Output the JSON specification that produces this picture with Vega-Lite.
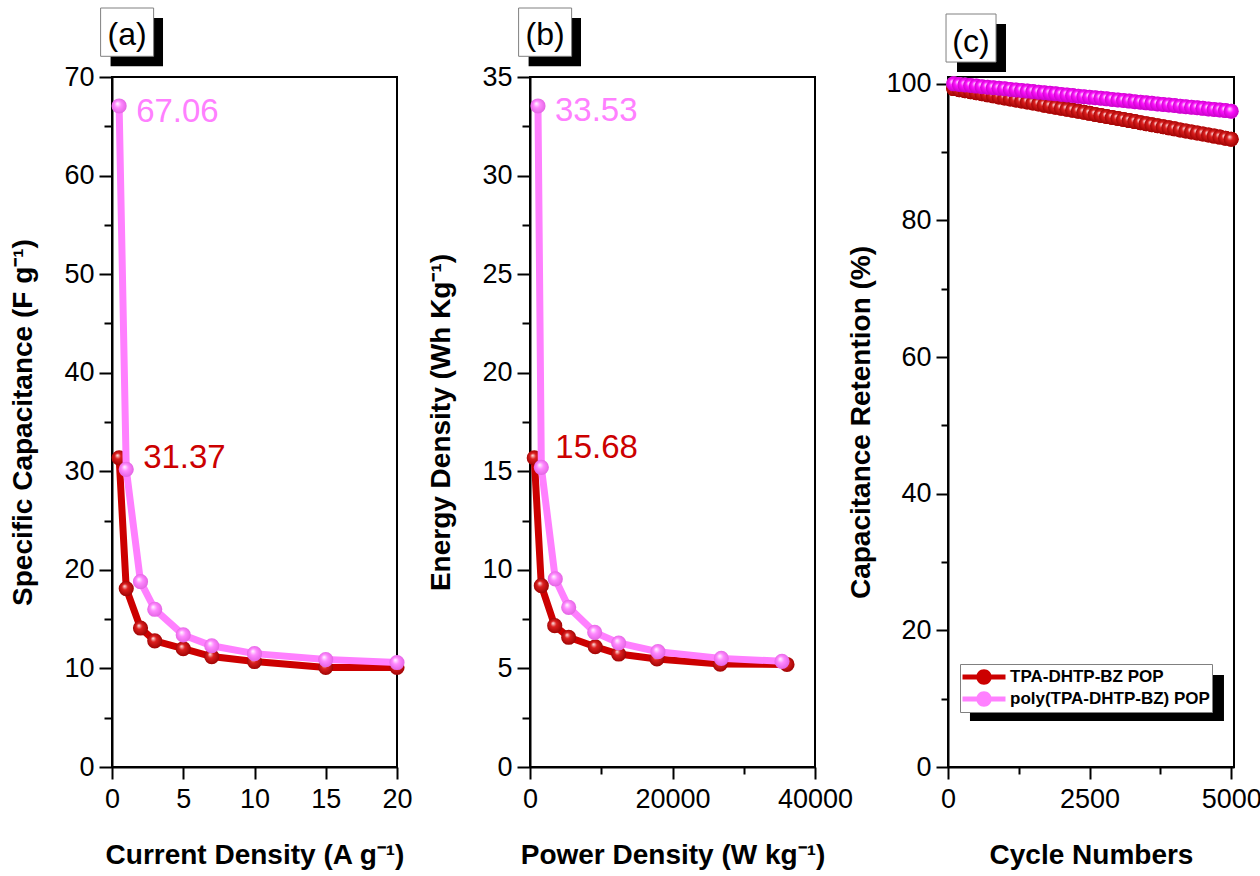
{
  "$schema": "https://vega.github.io/schema/vega-lite/v6.json",
  "autosize": {"type": "pad"},
  "padding": {"left": 8, "top": 6, "right": 0, "bottom": 0},
  "background": "white",
  "bounds": "flush",
  "spacing": 133,
  "resolve": {"legend": {"color": "independent"}},
  "config": {
    "font": "Liberation Sans",
    "view": {"stroke": "black", "strokeWidth": 2},
    "axis": {
      "grid": false,
      "domainColor": "black",
      "domainWidth": 2,
      "tickColor": "black",
      "tickWidth": 2,
      "labelColor": "black",
      "labelFont": "Liberation Sans",
      "labelFontSize": 27,
      "labelPadding": 5,
      "labelFlush": false,
      "labelOverlap": false,
      "labelBound": false,
      "titleFont": "Liberation Sans",
      "titleFontSize": 28,
      "titleFontWeight": "bold",
      "titleColor": "black"
    },
    "axisX": {"titlePadding": 29, "labelPadding": 7},
    "axisY": {"titlePadding": 26}
  },
  "datasets": {
    "a": [
      {"x": 0.5, "y": 31.37, "s": "r"}, {"x": 1, "y": 18.1, "s": "r"}, {"x": 2, "y": 14.1, "s": "r"}, {"x": 3, "y": 12.8, "s": "r"}, {"x": 5, "y": 12.0, "s": "r"}, {"x": 7, "y": 11.2, "s": "r"}, {"x": 10, "y": 10.7, "s": "r"}, {"x": 15, "y": 10.1, "s": "r"}, {"x": 20, "y": 10.1, "s": "r"},
      {"x": 0.5, "y": 67.06, "s": "p"}, {"x": 1, "y": 30.2, "s": "p"}, {"x": 2, "y": 18.8, "s": "p"}, {"x": 3, "y": 16.0, "s": "p"}, {"x": 5, "y": 13.4, "s": "p"}, {"x": 7, "y": 12.3, "s": "p"}, {"x": 10, "y": 11.5, "s": "p"}, {"x": 15, "y": 10.9, "s": "p"}, {"x": 20, "y": 10.6, "s": "p"}
    ],
    "b": [
      {"x": 600, "y": 15.68, "s": "r"}, {"x": 1590, "y": 9.2, "s": "r"}, {"x": 3470, "y": 7.17, "s": "r"}, {"x": 5430, "y": 6.58, "s": "r"}, {"x": 9160, "y": 6.1, "s": "r"}, {"x": 12450, "y": 5.73, "s": "r"}, {"x": 17820, "y": 5.48, "s": "r"}, {"x": 26700, "y": 5.22, "s": "r"}, {"x": 36070, "y": 5.2, "s": "r"},
      {"x": 1120, "y": 33.53, "s": "p"}, {"x": 1590, "y": 15.2, "s": "p"}, {"x": 3550, "y": 9.54, "s": "p"}, {"x": 5430, "y": 8.1, "s": "p"}, {"x": 9080, "y": 6.83, "s": "p"}, {"x": 12450, "y": 6.29, "s": "p"}, {"x": 17960, "y": 5.85, "s": "p"}, {"x": 26850, "y": 5.51, "s": "p"}, {"x": 35370, "y": 5.36, "s": "p"}
    ],
    "c": [
      {"c": 100, "y": 99.30, "s": "TPA-DHTP-BZ POP"}, {"c": 200, "y": 99.15, "s": "TPA-DHTP-BZ POP"}, {"c": 300, "y": 99.00, "s": "TPA-DHTP-BZ POP"}, {"c": 400, "y": 98.85, "s": "TPA-DHTP-BZ POP"}, {"c": 500, "y": 98.70, "s": "TPA-DHTP-BZ POP"},
      {"c": 600, "y": 98.55, "s": "TPA-DHTP-BZ POP"}, {"c": 700, "y": 98.39, "s": "TPA-DHTP-BZ POP"}, {"c": 800, "y": 98.24, "s": "TPA-DHTP-BZ POP"}, {"c": 900, "y": 98.09, "s": "TPA-DHTP-BZ POP"}, {"c": 1000, "y": 97.94, "s": "TPA-DHTP-BZ POP"},
      {"c": 1100, "y": 97.79, "s": "TPA-DHTP-BZ POP"}, {"c": 1200, "y": 97.64, "s": "TPA-DHTP-BZ POP"}, {"c": 1300, "y": 97.49, "s": "TPA-DHTP-BZ POP"}, {"c": 1400, "y": 97.34, "s": "TPA-DHTP-BZ POP"}, {"c": 1500, "y": 97.19, "s": "TPA-DHTP-BZ POP"},
      {"c": 1600, "y": 97.04, "s": "TPA-DHTP-BZ POP"}, {"c": 1700, "y": 96.88, "s": "TPA-DHTP-BZ POP"}, {"c": 1800, "y": 96.73, "s": "TPA-DHTP-BZ POP"}, {"c": 1900, "y": 96.58, "s": "TPA-DHTP-BZ POP"}, {"c": 2000, "y": 96.43, "s": "TPA-DHTP-BZ POP"},
      {"c": 2100, "y": 96.28, "s": "TPA-DHTP-BZ POP"}, {"c": 2200, "y": 96.13, "s": "TPA-DHTP-BZ POP"}, {"c": 2300, "y": 95.98, "s": "TPA-DHTP-BZ POP"}, {"c": 2400, "y": 95.83, "s": "TPA-DHTP-BZ POP"}, {"c": 2500, "y": 95.68, "s": "TPA-DHTP-BZ POP"},
      {"c": 2600, "y": 95.52, "s": "TPA-DHTP-BZ POP"}, {"c": 2700, "y": 95.37, "s": "TPA-DHTP-BZ POP"}, {"c": 2800, "y": 95.22, "s": "TPA-DHTP-BZ POP"}, {"c": 2900, "y": 95.07, "s": "TPA-DHTP-BZ POP"}, {"c": 3000, "y": 94.92, "s": "TPA-DHTP-BZ POP"},
      {"c": 3100, "y": 94.77, "s": "TPA-DHTP-BZ POP"}, {"c": 3200, "y": 94.62, "s": "TPA-DHTP-BZ POP"}, {"c": 3300, "y": 94.47, "s": "TPA-DHTP-BZ POP"}, {"c": 3400, "y": 94.32, "s": "TPA-DHTP-BZ POP"}, {"c": 3500, "y": 94.17, "s": "TPA-DHTP-BZ POP"},
      {"c": 3600, "y": 94.01, "s": "TPA-DHTP-BZ POP"}, {"c": 3700, "y": 93.86, "s": "TPA-DHTP-BZ POP"}, {"c": 3800, "y": 93.71, "s": "TPA-DHTP-BZ POP"}, {"c": 3900, "y": 93.56, "s": "TPA-DHTP-BZ POP"}, {"c": 4000, "y": 93.41, "s": "TPA-DHTP-BZ POP"},
      {"c": 4100, "y": 93.26, "s": "TPA-DHTP-BZ POP"}, {"c": 4200, "y": 93.11, "s": "TPA-DHTP-BZ POP"}, {"c": 4300, "y": 92.96, "s": "TPA-DHTP-BZ POP"}, {"c": 4400, "y": 92.81, "s": "TPA-DHTP-BZ POP"}, {"c": 4500, "y": 92.66, "s": "TPA-DHTP-BZ POP"},
      {"c": 4600, "y": 92.50, "s": "TPA-DHTP-BZ POP"}, {"c": 4700, "y": 92.35, "s": "TPA-DHTP-BZ POP"}, {"c": 4800, "y": 92.20, "s": "TPA-DHTP-BZ POP"}, {"c": 4900, "y": 92.05, "s": "TPA-DHTP-BZ POP"}, {"c": 5000, "y": 91.90, "s": "TPA-DHTP-BZ POP"},
      {"c": 100, "y": 100.00, "s": "poly(TPA-DHTP-BZ) POP"}, {"c": 200, "y": 99.92, "s": "poly(TPA-DHTP-BZ) POP"}, {"c": 300, "y": 99.84, "s": "poly(TPA-DHTP-BZ) POP"}, {"c": 400, "y": 99.76, "s": "poly(TPA-DHTP-BZ) POP"}, {"c": 500, "y": 99.67, "s": "poly(TPA-DHTP-BZ) POP"},
      {"c": 600, "y": 99.59, "s": "poly(TPA-DHTP-BZ) POP"}, {"c": 700, "y": 99.51, "s": "poly(TPA-DHTP-BZ) POP"}, {"c": 800, "y": 99.43, "s": "poly(TPA-DHTP-BZ) POP"}, {"c": 900, "y": 99.35, "s": "poly(TPA-DHTP-BZ) POP"}, {"c": 1000, "y": 99.27, "s": "poly(TPA-DHTP-BZ) POP"},
      {"c": 1100, "y": 99.18, "s": "poly(TPA-DHTP-BZ) POP"}, {"c": 1200, "y": 99.10, "s": "poly(TPA-DHTP-BZ) POP"}, {"c": 1300, "y": 99.02, "s": "poly(TPA-DHTP-BZ) POP"}, {"c": 1400, "y": 98.94, "s": "poly(TPA-DHTP-BZ) POP"}, {"c": 1500, "y": 98.86, "s": "poly(TPA-DHTP-BZ) POP"},
      {"c": 1600, "y": 98.78, "s": "poly(TPA-DHTP-BZ) POP"}, {"c": 1700, "y": 98.69, "s": "poly(TPA-DHTP-BZ) POP"}, {"c": 1800, "y": 98.61, "s": "poly(TPA-DHTP-BZ) POP"}, {"c": 1900, "y": 98.53, "s": "poly(TPA-DHTP-BZ) POP"}, {"c": 2000, "y": 98.45, "s": "poly(TPA-DHTP-BZ) POP"},
      {"c": 2100, "y": 98.37, "s": "poly(TPA-DHTP-BZ) POP"}, {"c": 2200, "y": 98.29, "s": "poly(TPA-DHTP-BZ) POP"}, {"c": 2300, "y": 98.20, "s": "poly(TPA-DHTP-BZ) POP"}, {"c": 2400, "y": 98.12, "s": "poly(TPA-DHTP-BZ) POP"}, {"c": 2500, "y": 98.04, "s": "poly(TPA-DHTP-BZ) POP"},
      {"c": 2600, "y": 97.96, "s": "poly(TPA-DHTP-BZ) POP"}, {"c": 2700, "y": 97.88, "s": "poly(TPA-DHTP-BZ) POP"}, {"c": 2800, "y": 97.80, "s": "poly(TPA-DHTP-BZ) POP"}, {"c": 2900, "y": 97.71, "s": "poly(TPA-DHTP-BZ) POP"}, {"c": 3000, "y": 97.63, "s": "poly(TPA-DHTP-BZ) POP"},
      {"c": 3100, "y": 97.55, "s": "poly(TPA-DHTP-BZ) POP"}, {"c": 3200, "y": 97.47, "s": "poly(TPA-DHTP-BZ) POP"}, {"c": 3300, "y": 97.39, "s": "poly(TPA-DHTP-BZ) POP"}, {"c": 3400, "y": 97.31, "s": "poly(TPA-DHTP-BZ) POP"}, {"c": 3500, "y": 97.22, "s": "poly(TPA-DHTP-BZ) POP"},
      {"c": 3600, "y": 97.14, "s": "poly(TPA-DHTP-BZ) POP"}, {"c": 3700, "y": 97.06, "s": "poly(TPA-DHTP-BZ) POP"}, {"c": 3800, "y": 96.98, "s": "poly(TPA-DHTP-BZ) POP"}, {"c": 3900, "y": 96.90, "s": "poly(TPA-DHTP-BZ) POP"}, {"c": 4000, "y": 96.82, "s": "poly(TPA-DHTP-BZ) POP"},
      {"c": 4100, "y": 96.73, "s": "poly(TPA-DHTP-BZ) POP"}, {"c": 4200, "y": 96.65, "s": "poly(TPA-DHTP-BZ) POP"}, {"c": 4300, "y": 96.57, "s": "poly(TPA-DHTP-BZ) POP"}, {"c": 4400, "y": 96.49, "s": "poly(TPA-DHTP-BZ) POP"}, {"c": 4500, "y": 96.41, "s": "poly(TPA-DHTP-BZ) POP"},
      {"c": 4600, "y": 96.33, "s": "poly(TPA-DHTP-BZ) POP"}, {"c": 4700, "y": 96.24, "s": "poly(TPA-DHTP-BZ) POP"}, {"c": 4800, "y": 96.16, "s": "poly(TPA-DHTP-BZ) POP"}, {"c": 4900, "y": 96.08, "s": "poly(TPA-DHTP-BZ) POP"}, {"c": 5000, "y": 96.00, "s": "poly(TPA-DHTP-BZ) POP"}
    ]
  },
  "hconcat": [
    {
      "width": 285,
      "height": 690,
      "data": {"name": "a"},
      "layer": [
        {"transform": [{"aggregate": [{"op": "count", "as": "n"}]}], "mark": {"type": "rect", "fill": "black", "clip": false},
         "encoding": {"x": {"datum": -0.1, "type": "quantitative", "scale": {"domain": [0, 20], "nice": false}}, "x2": {"datum": 3.58},
                      "y": {"datum": 75.99, "type": "quantitative", "scale": {"domain": [0, 70], "nice": false}}, "y2": {"datum": 71.09}}},
        {"transform": [{"aggregate": [{"op": "count", "as": "n"}]}], "mark": {"type": "rect", "fill": "white", "stroke": "#808080", "strokeWidth": 1, "clip": false},
         "encoding": {"x": {"datum": -0.8, "type": "quantitative", "scale": {"domain": [0, 20], "nice": false}}, "x2": {"datum": 2.92},
                      "y": {"datum": 77.0, "type": "quantitative", "scale": {"domain": [0, 70], "nice": false}}, "y2": {"datum": 72.1}}},
        {"transform": [{"aggregate": [{"op": "count", "as": "n"}]}], "mark": {"type": "text", "fontSize": 32, "color": "black", "align": "center", "baseline": "alphabetic", "clip": false},
         "encoding": {"x": {"datum": 1.06, "type": "quantitative", "scale": {"domain": [0, 20], "nice": false}},
                      "y": {"datum": 73.22, "type": "quantitative", "scale": {"domain": [0, 70], "nice": false}},
                      "text": {"value": "(a)"}}},
        {
          "encoding": {
            "x": {"field": "x", "type": "quantitative", "scale": {"domain": [0, 20], "nice": false},
                  "axis": {"title": "Current Density (A g⁻¹)", "values": [0, 2.5, 5, 7.5, 10, 12.5, 15, 17.5, 20], "format": "~g",
                           "labelExpr": "datum.value % 5 == 0 ? datum.label : ''",
                           "tickSize": {"condition": {"test": "datum.value % 5 == 0", "value": 12}, "value": 7}}},
            "y": {"field": "y", "type": "quantitative", "scale": {"domain": [0, 70], "nice": false},
                  "axis": {"title": "Specific Capacitance (F g⁻¹)", "values": [0, 5, 10, 15, 20, 25, 30, 35, 40, 45, 50, 55, 60, 65, 70], "format": "~g",
                           "labelExpr": "datum.value % 10 == 0 ? datum.label : ''",
                           "tickSize": {"condition": {"test": "datum.value % 10 == 0", "value": 13}, "value": 8}}}
          },
          "layer": [
            {"transform": [{"filter": "datum.s == 'r'"}], "mark": {"type": "line", "color": "#cc0000", "strokeWidth": 7}},
            {"transform": [{"filter": "datum.s == 'r'"}], "mark": {"type": "point", "filled": true, "size": 230, "opacity": 1, "strokeWidth": 0,
              "fill": {"gradient": "radial", "x1": 0.38, "y1": 0.33, "r1": 0, "x2": 0.5, "y2": 0.5, "r2": 0.55,
                       "stops": [{"offset": 0, "color": "#fff0f0"}, {"offset": 0.35, "color": "#dd2020"}, {"offset": 1, "color": "#990000"}]}}},
            {"transform": [{"filter": "datum.s == 'p'"}], "mark": {"type": "line", "color": "#ff80ff", "strokeWidth": 7}},
            {"transform": [{"filter": "datum.s == 'p'"}], "mark": {"type": "point", "filled": true, "size": 230, "opacity": 1, "strokeWidth": 0,
              "fill": {"gradient": "radial", "x1": 0.38, "y1": 0.33, "r1": 0, "x2": 0.5, "y2": 0.5, "r2": 0.55,
                       "stops": [{"offset": 0, "color": "#ffffff"}, {"offset": 0.4, "color": "#ff88ff"}, {"offset": 1, "color": "#e060e0"}]}}},
            {"transform": [{"filter": "datum.s == 'r' && datum.x == 0.5"}], "mark": {"type": "text", "align": "left", "baseline": "middle", "fontSize": 33, "color": "#cc0000", "dx": 24, "dy": 0},
             "encoding": {"text": {"field": "y", "type": "quantitative", "format": ".2f"}}},
            {"transform": [{"filter": "datum.s == 'p' && datum.x == 0.5"}], "mark": {"type": "text", "align": "left", "baseline": "middle", "fontSize": 33, "color": "#ff80ff", "dx": 17, "dy": 6},
             "encoding": {"text": {"field": "y", "type": "quantitative", "format": ".2f"}}}
          ]
        }
      ]
    },
    {
      "width": 285,
      "height": 690,
      "data": {"name": "b"},
      "layer": [
        {"transform": [{"aggregate": [{"op": "count", "as": "n"}]}], "mark": {"type": "rect", "fill": "black", "clip": false},
         "encoding": {"x": {"datum": -196, "type": "quantitative", "scale": {"domain": [0, 40000], "nice": false}}, "x2": {"datum": 7158},
                      "y": {"datum": 37.99, "type": "quantitative", "scale": {"domain": [0, 35], "nice": false}}, "y2": {"datum": 35.54}}},
        {"transform": [{"aggregate": [{"op": "count", "as": "n"}]}], "mark": {"type": "rect", "fill": "white", "stroke": "#808080", "strokeWidth": 1, "clip": false},
         "encoding": {"x": {"datum": -1600, "type": "quantitative", "scale": {"domain": [0, 40000], "nice": false}}, "x2": {"datum": 5840},
                      "y": {"datum": 38.5, "type": "quantitative", "scale": {"domain": [0, 35], "nice": false}}, "y2": {"datum": 36.05}}},
        {"transform": [{"aggregate": [{"op": "count", "as": "n"}]}], "mark": {"type": "text", "fontSize": 32, "color": "black", "align": "center", "baseline": "alphabetic", "clip": false},
         "encoding": {"x": {"datum": 2120, "type": "quantitative", "scale": {"domain": [0, 40000], "nice": false}},
                      "y": {"datum": 36.61, "type": "quantitative", "scale": {"domain": [0, 35], "nice": false}},
                      "text": {"value": "(b)"}}},
        {
          "encoding": {
            "x": {"field": "x", "type": "quantitative", "scale": {"domain": [0, 40000], "nice": false},
                  "axis": {"title": "Power Density (W kg⁻¹)", "values": [0, 10000, 20000, 30000, 40000], "format": "d",
                           "labelExpr": "datum.value % 20000 == 0 ? datum.label : ''",
                           "tickSize": {"condition": {"test": "datum.value % 20000 == 0", "value": 12}, "value": 7}}},
            "y": {"field": "y", "type": "quantitative", "scale": {"domain": [0, 35], "nice": false},
                  "axis": {"title": "Energy Density (Wh Kg⁻¹)", "values": [0, 2.5, 5, 7.5, 10, 12.5, 15, 17.5, 20, 22.5, 25, 27.5, 30, 32.5, 35], "format": "~g",
                           "labelExpr": "datum.value % 5 == 0 ? datum.label : ''",
                           "tickSize": {"condition": {"test": "datum.value % 5 == 0", "value": 13}, "value": 8}}}
          },
          "layer": [
            {"transform": [{"filter": "datum.s == 'r'"}], "mark": {"type": "line", "color": "#cc0000", "strokeWidth": 7}},
            {"transform": [{"filter": "datum.s == 'r'"}], "mark": {"type": "point", "filled": true, "size": 230, "opacity": 1, "strokeWidth": 0,
              "fill": {"gradient": "radial", "x1": 0.38, "y1": 0.33, "r1": 0, "x2": 0.5, "y2": 0.5, "r2": 0.55,
                       "stops": [{"offset": 0, "color": "#fff0f0"}, {"offset": 0.35, "color": "#dd2020"}, {"offset": 1, "color": "#990000"}]}}},
            {"transform": [{"filter": "datum.s == 'p'"}], "mark": {"type": "line", "color": "#ff80ff", "strokeWidth": 7}},
            {"transform": [{"filter": "datum.s == 'p'"}], "mark": {"type": "point", "filled": true, "size": 230, "opacity": 1, "strokeWidth": 0,
              "fill": {"gradient": "radial", "x1": 0.38, "y1": 0.33, "r1": 0, "x2": 0.5, "y2": 0.5, "r2": 0.55,
                       "stops": [{"offset": 0, "color": "#ffffff"}, {"offset": 0.4, "color": "#ff88ff"}, {"offset": 1, "color": "#e060e0"}]}}},
            {"transform": [{"filter": "datum.s == 'r' && datum.x < 1500"}], "mark": {"type": "text", "align": "left", "baseline": "middle", "fontSize": 33, "color": "#cc0000", "dx": 21, "dy": -10},
             "encoding": {"text": {"field": "y", "type": "quantitative", "format": ".2f"}}},
            {"transform": [{"filter": "datum.s == 'p' && datum.x < 1500"}], "mark": {"type": "text", "align": "left", "baseline": "middle", "fontSize": 33, "color": "#ff80ff", "dx": 17, "dy": 5},
             "encoding": {"text": {"field": "y", "type": "quantitative", "format": ".2f"}}}
          ]
        }
      ]
    },
    {
      "width": 286,
      "height": 690,
      "data": {"name": "c"},
      "layer": [
        {"transform": [{"aggregate": [{"op": "count", "as": "n"}]}], "mark": {"type": "rect", "fill": "black", "clip": false},
         "encoding": {"x": {"datum": 159, "type": "quantitative", "scale": {"domain": [0, 5050], "nice": false}}, "x2": {"datum": 1024},
                      "y": {"datum": 108.76, "type": "quantitative", "scale": {"domain": [0, 101], "nice": false}}, "y2": {"datum": 101.73}}},
        {"transform": [{"aggregate": [{"op": "count", "as": "n"}]}], "mark": {"type": "rect", "fill": "white", "stroke": "#808080", "strokeWidth": 1, "clip": false},
         "encoding": {"x": {"datum": -35, "type": "quantitative", "scale": {"domain": [0, 5050], "nice": false}}, "x2": {"datum": 848},
                      "y": {"datum": 110.22, "type": "quantitative", "scale": {"domain": [0, 101], "nice": false}}, "y2": {"datum": 103.19}}},
        {"transform": [{"aggregate": [{"op": "count", "as": "n"}]}], "mark": {"type": "text", "fontSize": 32, "color": "black", "align": "center", "baseline": "alphabetic", "clip": false},
         "encoding": {"x": {"datum": 406, "type": "quantitative", "scale": {"domain": [0, 5050], "nice": false}},
                      "y": {"datum": 104.6, "type": "quantitative", "scale": {"domain": [0, 101], "nice": false}},
                      "text": {"value": "(c)"}}},
        {"transform": [{"aggregate": [{"op": "count", "as": "n"}]}], "mark": {"type": "rect", "fill": "black", "clip": false},
         "encoding": {"x": {"datum": 388, "type": "quantitative", "scale": {"domain": [0, 5050], "nice": false}}, "x2": {"datum": 4873},
                      "y": {"datum": 13.47, "type": "quantitative", "scale": {"domain": [0, 101], "nice": false}}, "y2": {"datum": 6.73}}},
        {
          "encoding": {
            "x": {"field": "c", "type": "quantitative", "scale": {"domain": [0, 5050], "nice": false},
                  "axis": {"title": "Cycle Numbers", "values": [0, 1250, 2500, 3750, 5000], "format": "d",
                           "labelExpr": "datum.value % 2500 == 0 ? datum.label : ''",
                           "tickSize": {"condition": {"test": "datum.value % 2500 == 0", "value": 12}, "value": 7}}},
            "y": {"field": "y", "type": "quantitative", "scale": {"domain": [0, 101], "nice": false},
                  "axis": {"title": "Capacitance Retention (%)", "titlePadding": 10, "values": [0, 10, 20, 30, 40, 50, 60, 70, 80, 90, 100], "format": "d",
                           "labelExpr": "datum.value % 20 == 0 ? datum.label : ''",
                           "tickSize": {"condition": {"test": "datum.value % 20 == 0", "value": 12}, "value": 7}}}
          },
          "layer": [
            {"mark": {"type": "point", "filled": true, "size": 225, "opacity": 1, "strokeWidth": 0},
             "encoding": {"color": {"field": "s", "type": "nominal",
                                    "scale": {"domain": ["TPA-DHTP-BZ POP", "poly(TPA-DHTP-BZ) POP"], "range": ["#cc0000", "#ff80ff"]},
                                    "legend": {"orient": "none", "legendX": 12, "legendY": 587, "title": null,
                                               "symbolType": "M-1,-0.12H1V0.12H-1Z M-0.36,0A0.36,0.36 0 1,1 0.36,0A0.36,0.36 0 1,1 -0.36,0Z",
                                               "symbolSize": 1850, "symbolStrokeWidth": 0, "symbolOpacity": 1, "clipHeight": 22,
                                               "labelFont": "Liberation Sans", "labelFontSize": 17, "labelFontWeight": "bold", "labelColor": "black",
                                               "labelOffset": 4, "fillColor": "white", "strokeColor": "#808080", "padding": 2, "rowPadding": 0, "labelLimit": 400}}}},
            {"transform": [{"filter": "datum.s == 'TPA-DHTP-BZ POP'"}], "mark": {"type": "line", "color": "#cc0000", "strokeWidth": 6}},
            {"transform": [{"filter": "datum.s == 'TPA-DHTP-BZ POP'"}], "mark": {"type": "point", "filled": true, "size": 225, "opacity": 1, "strokeWidth": 0,
              "fill": {"gradient": "radial", "x1": 0.38, "y1": 0.33, "r1": 0, "x2": 0.5, "y2": 0.5, "r2": 0.55,
                       "stops": [{"offset": 0, "color": "#fff0f0"}, {"offset": 0.35, "color": "#dd2020"}, {"offset": 1, "color": "#990000"}]}}},
            {"transform": [{"filter": "datum.s == 'poly(TPA-DHTP-BZ) POP'"}], "mark": {"type": "line", "color": "#ff00ff", "strokeWidth": 6}},
            {"transform": [{"filter": "datum.s == 'poly(TPA-DHTP-BZ) POP'"}], "mark": {"type": "point", "filled": true, "size": 225, "opacity": 1, "strokeWidth": 0,
              "fill": {"gradient": "radial", "x1": 0.38, "y1": 0.33, "r1": 0, "x2": 0.5, "y2": 0.5, "r2": 0.55,
                       "stops": [{"offset": 0, "color": "#fff0ff"}, {"offset": 0.4, "color": "#ff10ff"}, {"offset": 1, "color": "#c000c0"}]}}}
          ]
        }
      ]
    }
  ]
}
